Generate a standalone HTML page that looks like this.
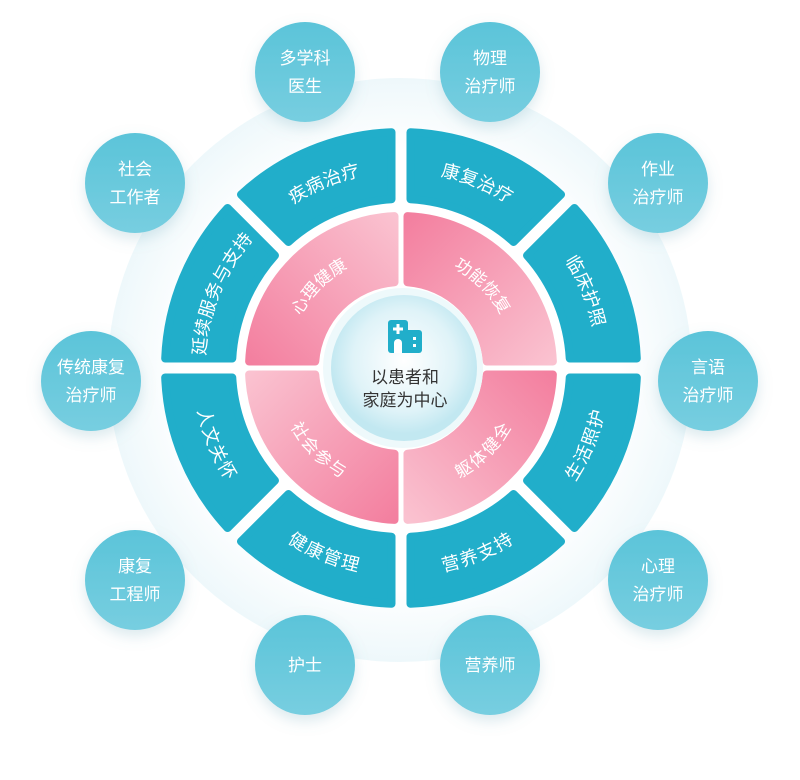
<!DOCTYPE html>
<html><head><meta charset="utf-8"><style>
body{margin:0;width:800px;height:775px;background:#fff;overflow:hidden}
svg text{font-family:"Liberation Sans","Noto Sans CJK SC",sans-serif}
</style></head><body>
<svg id="s" width="800" height="775" viewBox="0 0 800 775">
<defs>
<radialGradient id="bg" cx="50%" cy="50%" r="50%">
<stop offset="0.75" stop-color="#ffffff"/><stop offset="1" stop-color="#eef8fb"/></radialGradient>
<radialGradient id="cc" cx="50%" cy="45%" r="50%">
<stop offset="0" stop-color="#ffffff"/><stop offset="0.7" stop-color="#dff3f8"/><stop offset="1" stop-color="#c2e8f1"/></radialGradient>
<linearGradient id="bub" x1="0" y1="0" x2="0" y2="1"><stop offset="0" stop-color="#5bc4d9"/><stop offset="1" stop-color="#77cee0"/></linearGradient>
<linearGradient id="p0" x1="1" y1="0" x2="0" y2="1"><stop offset="0" stop-color="#fac2d0"/><stop offset="1" stop-color="#f37f9f"/></linearGradient>
<linearGradient id="p1" x1="0" y1="0" x2="1" y2="1"><stop offset="0" stop-color="#f37f9f"/><stop offset="1" stop-color="#fac2d0"/></linearGradient>
<linearGradient id="p2" x1="0" y1="1" x2="1" y2="0"><stop offset="0" stop-color="#fac2d0"/><stop offset="1" stop-color="#f37f9f"/></linearGradient>
<linearGradient id="p3" x1="0" y1="0" x2="1" y2="1"><stop offset="0" stop-color="#fac2d0"/><stop offset="1" stop-color="#f37f9f"/></linearGradient>
<filter id="sh" x="-30%" y="-30%" width="160%" height="160%"><feDropShadow dx="0" dy="6" stdDeviation="7" flood-color="#6fa9b8" flood-opacity="0.25"/></filter>
</defs>
<circle cx="400" cy="370" r="292" fill="url(#bg)"/>
<g id="g"></g>
</svg>
<script>
var cx=401,cy=368,NS="http://www.w3.org/2000/svg",g=document.getElementById("g");
function P(r,a){a=a*Math.PI/180;return (cx+r*Math.cos(a)).toFixed(2)+" "+(cy-r*Math.sin(a)).toFixed(2);}
function el(t,at,txt){var e=document.createElementNS(NS,t);for(var k in at)e.setAttribute(k,at[k]);if(txt)e.textContent=txt;g.appendChild(e);return e;}
function seg(r1,r2,a1,a2,gap,fill){var d1=gap/r1*180/Math.PI,d2=gap/r2*180/Math.PI;
var d="M"+P(r2,a2-d2)+" A"+r2+" "+r2+" 0 0 1 "+P(r2,a1+d2)+" L"+P(r1,a1+d1)+" A"+r1+" "+r1+" 0 0 0 "+P(r1,a2-d1)+"Z";
el("path",{d:d,fill:fill,stroke:fill,"stroke-width":8,"stroke-linejoin":"round"});}
var n=0;
function lab(r,a1,a2,txt,size,col,ls){var id="t"+(n++),d;
if(a1>=0&&a2<=180) d="M"+P(r,a2)+" A"+r+" "+r+" 0 0 1 "+P(r,a1);
else d="M"+P(r,a1)+" A"+r+" "+r+" 0 0 0 "+P(r,a2);
el("path",{id:id,d:d,fill:"none"});
var t=el("text",{"font-size":size,fill:col,"letter-spacing":ls||0,"dominant-baseline":"central"});
var tp=document.createElementNS(NS,"textPath");tp.setAttribute("href","#"+id);tp.setAttribute("startOffset","50%");tp.setAttribute("text-anchor","middle");tp.textContent=txt;t.appendChild(tp);}
var T=[[45,90,"康复治疗"],[90,135,"疾病治疗"],[135,180,"延续服务与支持"],[0,45,"临床护照"],[-45,0,"生活照护"],[-90,-45,"营养支持"],[-135,-90,"健康管理"],[180,225,"人文关怀"]];
T.forEach(function(s){seg(169,236,s[0],s[1],9.5,"#21aeca");});
T.forEach(function(s){lab(202,s[0],s[1],s[2],18,"#fff",1);});
var Q=[[90,180,"心理健康","url(#p0)"],[0,90,"功能恢复","url(#p1)"],[-90,0,"躯体健全","url(#p2)"],[180,270,"社会参与","url(#p3)"]];
Q.forEach(function(s){seg(86,152,s[0],s[1],6.5,s[3]);});
Q.forEach(function(s){lab(119,s[0],s[1],s[2],17,"#fff",1);});
el("circle",{cx:cx+2,cy:cy,r:80,fill:"#eef9fb"});
el("circle",{cx:cx+3,cy:cy,r:73,fill:"url(#cc)"});
el("rect",{x:388,y:320,width:20,height:33,rx:3,fill:"#21aeca"});
el("rect",{x:400,y:330,width:22,height:23,rx:3,fill:"#21aeca"});
el("path",{d:"M394 343 a4 4 0 0 1 8 0 v10 h-8z",fill:"#fff"});
el("rect",{x:396.5,y:324,width:3,height:10,fill:"#fff"});
el("rect",{x:393,y:327.5,width:10,height:3,fill:"#fff"});
el("rect",{x:413,y:337,width:3,height:3,fill:"#fff"});
el("rect",{x:413,y:344,width:3,height:3,fill:"#fff"});
el("text",{x:405,y:383,"font-size":17,fill:"#333","text-anchor":"middle"},"以患者和");
el("text",{x:405,y:406,"font-size":17,fill:"#333","text-anchor":"middle"},"家庭为中心");
var B=[[305,72,"多学科","医生"],[490,72,"物理","治疗师"],[135,183,"社会","工作者"],[658,183,"作业","治疗师"],[91,381,"传统康复","治疗师"],[708,381,"言语","治疗师"],[135,580,"康复","工程师"],[658,580,"心理","治疗师"],[305,665,"护士"],[490,665,"营养师"]];
B.forEach(function(b){el("circle",{cx:b[0],cy:b[1],r:50,fill:"url(#bub)",filter:"url(#sh)"});
if(b.length==4){el("text",{x:b[0],y:b[1]-8,"font-size":17,fill:"#fff","text-anchor":"middle"},b[2]);el("text",{x:b[0],y:b[1]+20,"font-size":17,fill:"#fff","text-anchor":"middle"},b[3]);}
else el("text",{x:b[0],y:b[1]+6,"font-size":17,fill:"#fff","text-anchor":"middle"},b[2]);});
</script>
</body></html>
